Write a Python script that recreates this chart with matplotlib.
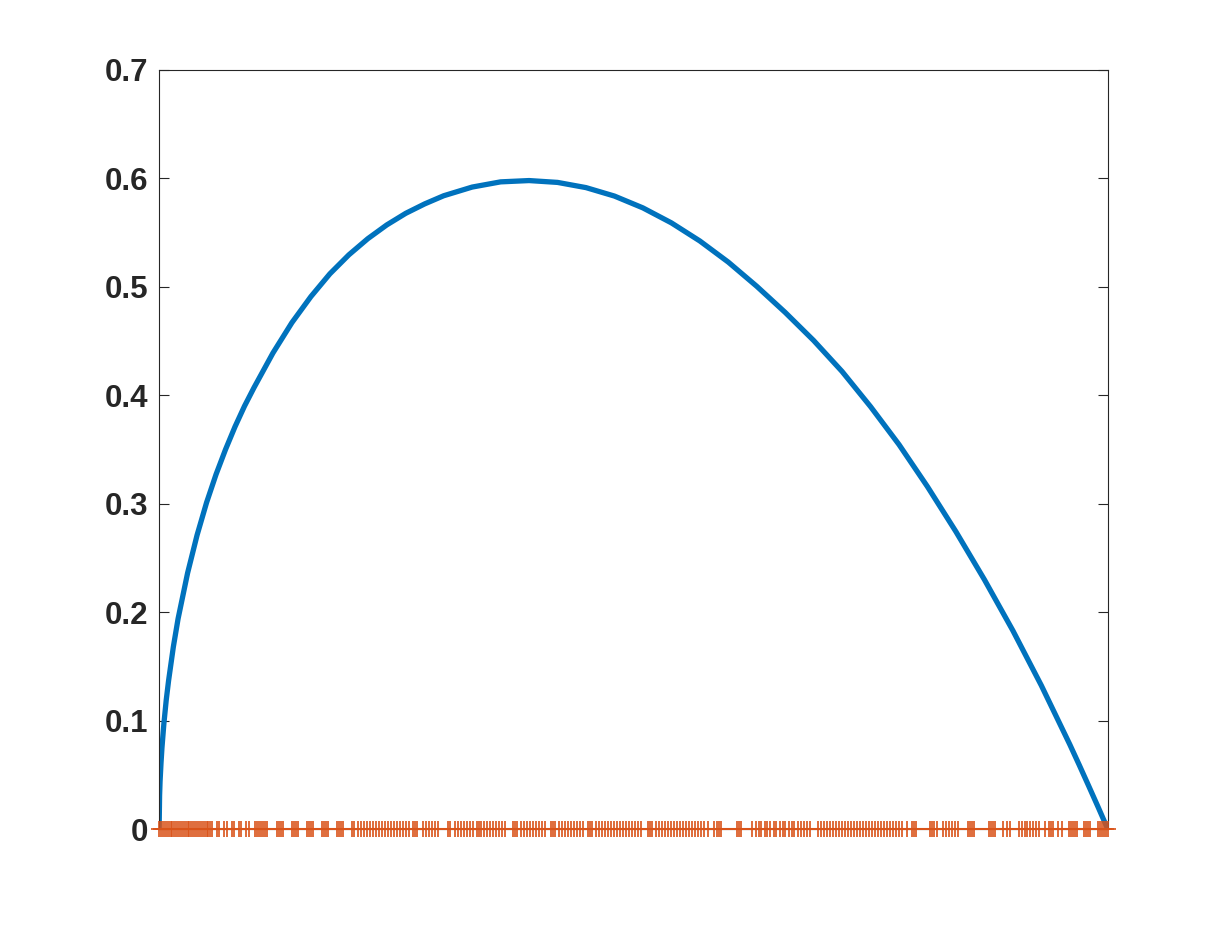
import matplotlib
matplotlib.use("Agg")
import matplotlib.pyplot as plt

# ---- data ----
curve_x = [0.0, 0.0005, 0.001, 0.002, 0.003, 0.005, 0.0075, 0.010, 0.015, 0.020,
           0.030, 0.040, 0.050, 0.060, 0.070, 0.080, 0.090, 0.100, 0.120, 0.140,
           0.160, 0.180, 0.200, 0.220, 0.240, 0.260, 0.280, 0.300, 0.330, 0.360,
           0.390, 0.420, 0.450, 0.480, 0.510, 0.540, 0.570, 0.600, 0.630, 0.660,
           0.690, 0.720, 0.750, 0.780, 0.810, 0.840, 0.870, 0.900, 0.930, 0.960,
           0.970, 0.980, 0.990, 1.000]
curve_y = [0.0, 0.031, 0.044, 0.061, 0.075, 0.097, 0.119, 0.137, 0.168, 0.194,
           0.236, 0.271, 0.301, 0.327, 0.350, 0.371, 0.390, 0.407, 0.439, 0.467,
           0.491, 0.512, 0.5295, 0.5444, 0.5571, 0.5678, 0.5765, 0.584, 0.592, 0.5968,
           0.598, 0.5963, 0.5915, 0.5837, 0.5728, 0.559, 0.5423, 0.5228, 0.5005, 0.4764,
           0.4505, 0.4219, 0.3895, 0.3545, 0.3157, 0.2742, 0.230, 0.183, 0.1324, 0.078,
           0.059, 0.0396, 0.020, 0.0]

nodes = [
    0.000, 0.002, 0.004, 0.006, 0.008, 0.010, 0.012, 0.014, 0.016, 0.018, 0.020,
    0.022, 0.024, 0.026, 0.028, 0.030, 0.032, 0.034, 0.036, 0.038, 0.040, 0.042,
    0.044, 0.046, 0.048, 0.050, 0.052, 0.054, 0.056,
    0.0612, 0.0633, 0.0686, 0.0717, 0.0770, 0.0791, 0.0844, 0.0865, 0.0918, 0.0949,
    0.1013, 0.1034, 0.1055, 0.1076, 0.1097, 0.1118, 0.1139,
    0.1245, 0.1266, 0.1287, 0.1308,
    0.1403, 0.1424, 0.1445, 0.1466,
    0.1561, 0.1582, 0.1603, 0.1624,
    0.1719, 0.1741, 0.1762, 0.1783,
    0.1878, 0.1899, 0.1920, 0.1941,
    0.2036, 0.2057,
    0.2099, 0.2131, 0.2162, 0.2194, 0.2226, 0.2257, 0.2289, 0.2321, 0.2352, 0.2384,
    0.2416, 0.2447, 0.2479, 0.2511, 0.2542, 0.2574, 0.2605, 0.2637,
    0.2679, 0.2700, 0.2722,
    0.2785, 0.2816, 0.2848, 0.2880, 0.2911, 0.2943,
    0.3049, 0.3070,
    0.3122, 0.3154, 0.3186, 0.3217, 0.3249, 0.3281, 0.3312,
    0.3354, 0.3376, 0.3397,
    0.3428, 0.3460, 0.3492, 0.3523, 0.3555, 0.3586, 0.3618, 0.3650,
    0.3734, 0.3755, 0.3776,
    0.3819, 0.3850, 0.3882, 0.3914, 0.3945, 0.3977, 0.4008, 0.4040, 0.4072,
    0.4135, 0.4156, 0.4177,
    0.4219, 0.4251, 0.4283, 0.4314, 0.4346, 0.4378, 0.4409, 0.4441, 0.4473,
    0.4525, 0.4546, 0.4568,
    0.4610, 0.4641, 0.4673, 0.4705, 0.4736, 0.4768, 0.4800, 0.4831, 0.4863, 0.4895,
    0.4926, 0.4958, 0.4989, 0.5021, 0.5053, 0.5084,
    0.5158, 0.5179, 0.5200,
    0.5243, 0.5274, 0.5306, 0.5338, 0.5369, 0.5401, 0.5432, 0.5464, 0.5496, 0.5527,
    0.5559, 0.5591, 0.5622, 0.5654, 0.5686, 0.5717, 0.5749, 0.5781,
    0.5854, 0.5876, 0.5897, 0.5918,
    0.6097, 0.6118, 0.6139,
    0.6255, 0.6287, 0.6319, 0.6350, 0.6382, 0.6413, 0.6445, 0.6477, 0.6508, 0.6540,
    0.6572, 0.6603, 0.6635, 0.6667, 0.6698, 0.6730, 0.6762, 0.6793, 0.6825, 0.6857,
    0.6941, 0.6973, 0.7004, 0.7036, 0.7068, 0.7099, 0.7131, 0.7162, 0.7194, 0.7226,
    0.7257, 0.7289, 0.7321, 0.7352, 0.7384, 0.7416, 0.7447, 0.7479, 0.7511, 0.7542,
    0.7574, 0.7605, 0.7637, 0.7669, 0.7700, 0.7732, 0.7764, 0.7795, 0.7827,
    0.7880,
    0.7932, 0.7954, 0.7975,
    0.8122, 0.8143, 0.8165,
    0.8196, 0.8259, 0.8291, 0.8323, 0.8354, 0.8386, 0.8418,
    0.8523, 0.8544, 0.8565, 0.8586,
    0.8745, 0.8766, 0.8787, 0.8808,
    0.8892, 0.8935, 0.8966,
    0.9061, 0.9093, 0.9124, 0.9146, 0.9177, 0.9209, 0.9241, 0.9272,
    0.9335,
    0.9378, 0.9399, 0.9420,
    0.9473, 0.9515,
    0.9589, 0.9610, 0.9631, 0.9652, 0.9673,
    0.9747, 0.9768, 0.9789, 0.9810,
    0.9895, 0.9916, 0.9937, 0.9958, 0.9979, 1.0000,
]
node_values = [0.0] * len(nodes)

y_ticks = [0, 0.1, 0.2, 0.3, 0.4, 0.5, 0.6, 0.7]
y_ticklabels = ["0", "0.1", "0.2", "0.3", "0.4", "0.5", "0.6", "0.7"]

# ---- figure ----
fig = plt.figure(figsize=(12.24, 9.34), dpi=100)
ax = fig.add_axes([0.13, 0.1124, 0.775, 0.8127])

ax.plot(curve_x, curve_y, color="#0072BD", lw=3.8, solid_capstyle="butt",
        solid_joinstyle="round", zorder=2)
ax.plot(nodes, node_values, color="#D95319", lw=1.5, marker="+", markersize=11,
        markeredgewidth=1.2, clip_on=False, zorder=3)

ax.set_xlim(0, 1)
ax.set_ylim(0, 0.7)
ax.set_xticks([])
ax.set_yticks(y_ticks)
ax.set_yticklabels(y_ticklabels, fontfamily="Liberation Sans", fontweight="bold",
                   fontsize=22.5, color="#262626")
ax.tick_params(axis="y", direction="in", length=7, width=0.8, color="#262626",
               left=True, right=True, pad=8)
for s in ax.spines.values():
    s.set_linewidth(0.8)
    s.set_color("#262626")

fig.savefig("out.png", dpi=100)
